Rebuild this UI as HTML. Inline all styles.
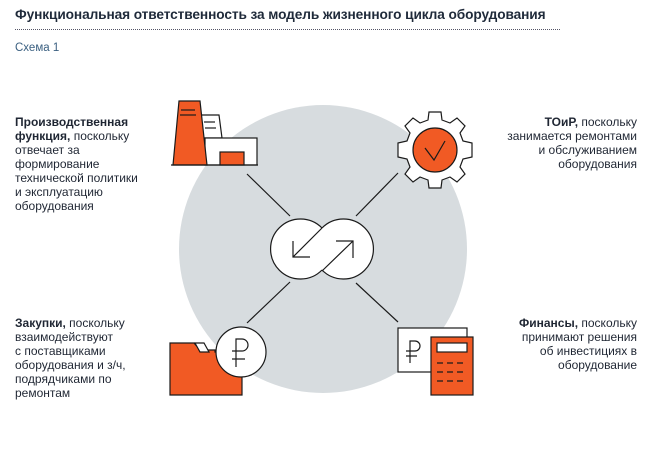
<!DOCTYPE html>
<html><head><meta charset="utf-8"><style>
body{margin:0;width:658px;height:465px;background:#fff;position:relative;font-family:"Liberation Sans",sans-serif;color:#1f2633;overflow:hidden}
.t{position:absolute;font-size:12px;line-height:14px}
b{font-weight:bold}
</style></head><body>
<div style="position:absolute;left:15px;top:7px;font-size:13.7px;font-weight:bold;color:#1f2a3a;letter-spacing:-0.1px">Функциональная ответственность за модель жизненного цикла оборудования</div>
<div style="position:absolute;left:15px;top:29px;width:545px;border-top:1px dotted #556"></div>
<div style="position:absolute;left:15px;top:42px;font-size:11.5px;color:#3a5f80">Схема 1</div>
<div class="t" style="left:15px;top:115px"><b>Производственная<br>функция,</b> поскольку<br>отвечает за<br>формирование<br>технической политики<br>и эксплуатацию<br>оборудования</div>
<div class="t" style="right:21px;top:115px;text-align:right"><b>ТОиР,</b> поскольку<br>занимается ремонтами<br>и обслуживанием<br>оборудования</div>
<div class="t" style="left:15px;top:316px"><b>Закупки,</b> поскольку<br>взаимодействуют<br>с поставщиками<br>оборудования и з/ч,<br>подрядчиками по<br>ремонтам</div>
<div class="t" style="right:21px;top:316px;text-align:right"><b>Финансы,</b> поскольку<br>принимают решения<br>об инвестициях в<br>оборудование</div>
<svg width="658" height="465" style="position:absolute;left:0;top:0" fill="none" stroke="#1a1a1a" stroke-width="1.2">
<circle cx="323" cy="249" r="144" fill="#d7dcdf" stroke="none"/>
<line x1="247" y1="174" x2="290" y2="216"/><line x1="398" y1="173" x2="356" y2="216"/>
<line x1="290" y1="282" x2="247" y2="323"/><line x1="356" y1="283" x2="398" y2="322"/>
<path d="M322 228 A30 30 0 1 0 322 270 A30 30 0 1 0 322 228 Z" fill="#fff" stroke="none"/>
<path d="M322 228 A30 30 0 1 0 322 270 M322 228 A30 30 0 1 1 322 270"/>
<path d="M322 228 L293 257 M293 241 L293 257 L310 257"/>
<path d="M322 271 L353 241 M336 241 L353 241 L353 258"/>
<!-- factory -->
<path d="M200 115 L219 115 L222 138 L203 138 Z" fill="#fff"/>
<line x1="204" y1="122" x2="215" y2="122"/><line x1="205" y1="128" x2="216" y2="128"/>
<rect x="205" y="138" width="52" height="27" fill="#fff"/>
<rect x="220" y="152" width="24" height="13" fill="#f15a24"/>
<path d="M179 101 L200 101 L207 165 L173 165 Z" fill="#f15a24"/>
<line x1="181" y1="110" x2="195" y2="110"/><line x1="180" y1="115" x2="196" y2="115"/>
<line x1="171" y1="165" x2="258" y2="165"/>
<!-- gear -->
<g transform="translate(435,150)">
<path fill="#fff" d="M-6,-38 L6,-38 L7,-30 L15,-27 L22,-32 L30,-24 L25,-17 L28,-9 L37,-7 L37,7 L28,9 L25,17 L30,24 L22,32 L15,27 L7,30 L6,38 L-6,38 L-7,30 L-15,27 L-22,32 L-30,24 L-25,17 L-28,9 L-37,7 L-37,-7 L-28,-9 L-25,-17 L-30,-24 L-22,-32 L-15,-27 L-7,-30 Z"/>
<circle r="22" fill="#f15a24"/>
<path d="M-10,-2 L-1,10 L10,-9"/>
</g>
<!-- folder -->
<path d="M170 343 L194 343 L200 350 L215 350 L215 352 L242 352 L242 395 L170 395 Z" fill="#f15a24"/>
<path d="M195 343 L204 343 L209 352 L200 352 Z" fill="#fff"/>
<circle cx="241" cy="352" r="25" fill="#fff"/>
<path d="M236 367 L236 339 L242 339 A6 6 0 0 1 242 351 L232 351 M232 359 L245 359"/>
<!-- calc -->
<rect x="398" y="328" width="69" height="44" fill="#fff"/>
<path d="M410 363 L410 341 L415 341 A5 5 0 0 1 415 351 L406 351 M406 356 L417 356"/>
<rect x="431" y="337" width="42" height="58" fill="#f15a24"/>
<rect x="437" y="343" width="30" height="9" fill="#fff"/>
<path d="M437 363h6m4 0h6m4 0h6M437 372h6m4 0h6m4 0h6M437 381h6m4 0h6m4 0h6"/>
</svg>
</body></html>
